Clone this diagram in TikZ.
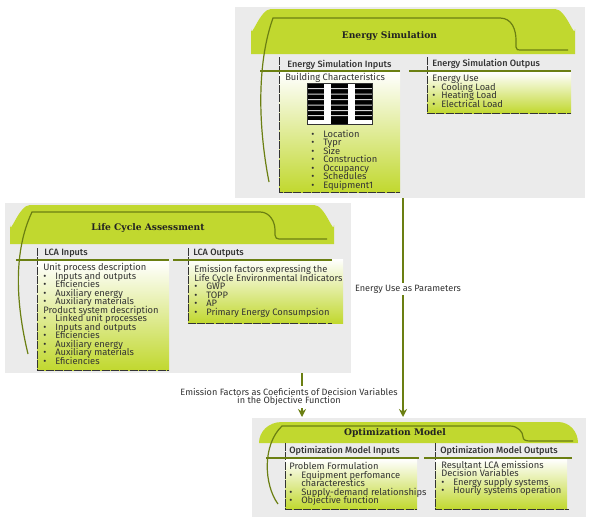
\documentclass[tikz,border=0pt]{standalone}
\usepackage{fontspec}
\setmainfont{Fira Sans}
\newfontfamily\slabfont{DejaVu Serif}
\newfontfamily\medfont{Fira Sans Medium}
\usetikzlibrary{arrows.meta}
\definecolor{panelgray}{HTML}{EBEBEB}
\definecolor{lime}{HTML}{C1D82F}
\definecolor{olive}{HTML}{6B7F12}
\definecolor{ink}{HTML}{333333}
\definecolor{titleink}{HTML}{222222}
\newcommand{\tightlines}{\fontsize{7}{6.4}\selectfont\lineskiplimit -20pt\relax}
\newcommand{\flowlines}{\fontsize{6.85}{6.4}\selectfont\lineskiplimit -20pt\relax}
\tikzset{
  x=0.75pt,y=-0.75pt,
  panel/.style={fill=panelgray,draw=none},
  band/.style={fill=lime,draw=none},
  swoosh/.style={draw=olive,line width=0.9pt},
  rule/.style={draw=olive,line width=1.5pt},
  gradbox/.style={top color=white,bottom color=lime,draw=none},
  dashedge/.style={draw=ink,line width=0.7pt,dash pattern=on 6pt off 1pt},
  flow/.style={draw=olive,line width=1.3pt,-{Stealth[length=6pt,width=6pt]}},
  title/.style={font=\slabfont\bfseries\fontsize{6.85}{8}\selectfont,text=titleink,inner sep=0pt},
  head/.style={font=\medfont\fontsize{6.85}{8}\selectfont,text=ink,inner sep=0pt,anchor=west},
  body/.style={font=\tightlines,text=ink,inner sep=0pt,anchor=north west,align=left},
  flowlabel/.style={font=\flowlines,text=ink,fill=white,inner sep=1.5pt,align=center},
}
\newcommand{\hb}{\makebox[9pt][l]{\textbullet}}
\newcommand{\hc}{\makebox[6.75pt][l]{\textbullet}}
\begin{document}
\begin{tikzpicture}
\useasboundingbox (0,0) rectangle (589,521);
\fill[white] (0,0) rectangle (589,521);
% ---------- Energy Simulation
\node[panel,minimum width=262pt,minimum height=143pt,inner sep=0pt,anchor=north west] (energy) at (235,7) {};
\fill[band] (251,54) -- (251,29) to[out=-90,in=180] (271,9) -- (555,9) to[out=0,in=-90] (575,29) -- (575,54) -- cycle;
\draw[swoosh] (269,182) .. controls (257,120) and (258,60) .. (273,18) -- (500,18) .. controls (512,18) and (516,30) .. (516,40) -- (516,47) .. controls (516,50) and (518,50) .. (520,50) -- (568,50);
\node[title] at (389.5,36) {Energy Simulation};
\shade[gradbox] (279,72) rectangle (400,192);
\shade[gradbox] (427,72) rectangle (571,113);
\draw[dashedge] (279,57) -- (279,192) -- (400,192);
\draw[dashedge] (427,57) -- (427,113) -- (571,113);
\draw[rule] (260,71) -- (400,71);
\draw[rule] (409,71) -- (571,71);
\node[head] at (287,64.5) {Energy Simulation Inputs};
\node[head] at (432,63.5) {Energy Simulation Outpus};
\node[body] at (285,73) {Building Characteristics};
\fill[black] (307,83) rectangle (372,124);
\fill[white] (324,83) rectangle (331,124);
\fill[white] (348,83) rectangle (355,124);
\foreach \yy in {88,93.5,99,104.5,110,115}
  \fill[white!60!black!40] (307,\yy) rectangle (324,\yy+1) (331,\yy) rectangle (348,\yy+1) (355,\yy) rectangle (372,\yy+1);
\fill[white] (307,120) rectangle (331,124);
\fill[white] (348,120) rectangle (372,124);
\draw[ink,line width=0.4pt] (307,83) rectangle (372,124);
\node[body] at (311,129.5) {\hb Location\\\hb Typr\\\hb Size\\\hb Construction\\\hb Occupancy\\\hb Schedules\\\hb Equipment1};
\node[body] at (432,75) {Energy Use\\\hc Cooling Load\\\hc Heating Load\\\hc Electrical Load};
% ---------- Life Cycle Assessment
\node[panel,minimum width=259.5pt,minimum height=127.5pt,inner sep=0pt,anchor=north west] (lca) at (5,203) {};
\fill[band] (10,244) -- (10,225) to[out=-90,in=180] (30,205) -- (314,205) to[out=0,in=-90] (334,225) -- (334,244) -- cycle;
\draw[swoosh] (28,354) .. controls (15,300) and (14,250) .. (32,212) -- (260,212) .. controls (270,212) and (275,222) .. (275,230) -- (275,235) .. controls (275,238) and (277,239) .. (279,239) -- (327,239);
\node[title] at (148,228.5) {Life Cycle Assessment};
\shade[gradbox] (37,261) rectangle (169,370);
\shade[gradbox] (188,259) rectangle (343,323);
\draw[dashedge] (37,248) -- (37,370) -- (169,370);
\draw[dashedge] (188,248) -- (188,323) -- (332,323);
\draw[rule] (16,260) -- (169,260);
\draw[rule] (173,260) -- (332,260);
\node[head] at (44,253.5) {LCA Inputs};
\node[head] at (193,253.5) {LCA Outputs};
\node[body] at (43,263) {Unit process description\\\hb Inputs and outputs\\\hb Eficiencies\\\hb Auxiliary energy\\\hb Auxiliary materials\\Product system description\\\hb Linked unit processes\\\hb Inputs and outputs\\\hb Eficiencies\\\hb Auxiliary energy\\\hb Auxiliary materials\\\hb Eficiencies};
\node[body] at (194,265) {Emission factors expressing the\\Life Cycle Environmental Indicators\\\hb GWP\\\hb TOPP\\\hb AP\\\hb Primary Energy Consumpsion};
% ---------- Optimization Model
\node[panel,minimum width=250.5pt,minimum height=74.25pt,inner sep=0pt,anchor=north west] (opt) at (252,418) {};
\fill[band] (259,443) .. controls (259,432) and (268,422) .. (282,422) -- (558,422) .. controls (570,422) and (578,432) .. (578,443) -- cycle;
\draw[swoosh] (278,504) .. controls (264,485) and (262,445) .. (282,426) -- (510,426) .. controls (518,426) and (523,432) .. (523,437) .. controls (523,440) and (526,441) .. (530,441) -- (573,441);
\node[title] at (395,433) {Optimization Model};
\shade[gradbox] (285,459) rectangle (417,509);
\shade[gradbox] (435,459) rectangle (567,509);
\draw[dashedge] (285,443) -- (285,509) -- (417,509);
\draw[dashedge] (435,443) -- (435,509) -- (569,509);
\draw[rule] (266,458) -- (419,458);
\draw[rule] (424,458) -- (572,458);
\node[head] at (289,451) {Optimization Model Inputs};
\node[head] at (440,451) {Optimization Model Outputs};
\node[body] at (289,462) {Problem Formulation\\\hb Equipment perfomance\\\hspace{9pt}characterestics\\\hb Supply-demand relationships\\\hb Objective function};
\node[body] at (441,460.5) {Resultant LCA emissions\\Decision Variables\\\hb Energy supply systems\\\hb Hourly systems operation};
% ---------- Connectors
\coordinate (optA) at (403,417);
\coordinate (optB) at (302,417);
\coordinate (enA) at (403,198);
\coordinate (lcaA) at (302,373);
\draw[flow] (enA) -- (optA) node[flowlabel,pos=0.417,xshift=3.75pt] (lab1) {Energy Use as Parameters};
\draw[flow] (lcaA) -- (optB) node[flowlabel,pos=0.54,xshift=-9.75pt] (lab2) {Emission Factors as Coeficients of Decision Variables\\in the Objective Function};
\end{tikzpicture}
\end{document}
